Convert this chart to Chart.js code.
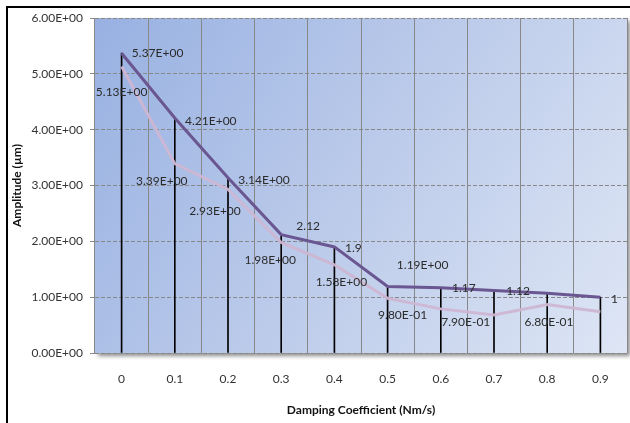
<!DOCTYPE html>
<html><head><meta charset="utf-8">
<script src="https://cdn.jsdelivr.net/npm/chart.js@4"></script>
<style>
html,body{margin:0;padding:0;background:#fff;}
#wrap{position:relative;width:630px;height:423px;overflow:hidden;}
#frame{position:absolute;left:6px;top:6px;width:700px;height:500px;border-left:2px solid #000;border-top:2px solid #000;pointer-events:none;}
</style></head><body>
<div id="wrap"><canvas id="c" width="630" height="423"></canvas><div id="frame"></div></div>
<script>
const categories = ['0','0.1','0.2','0.3','0.4','0.5','0.6','0.7','0.8','0.9'];
const upperSeries = [5.37, 4.21, 3.14, 2.12, 1.9, 1.19, 1.17, 1.12, 1.07, 1];
const lowerSeries = [5.13, 3.39, 2.93, 1.98, 1.58, 0.98, 0.79, 0.68, 0.87, 0.74];
const upperLabels = ['5.37E+00','4.21E+00','3.14E+00','2.12','1.9','1.19E+00','1.17','1.12','','1'];
const lowerLabels = ['5.13E+00','3.39E+00','2.93E+00','1.98E+00','1.58E+00','9.80E-01','7.90E-01','6.80E-01','',''];
const yTickLabels = ['0.00E+00','1.00E+00','2.00E+00','3.00E+00','4.00E+00','5.00E+00','6.00E+00'];

const FONT = 'Lato, "Open Sans", sans-serif';

const plotBg = {
  id: 'plotBg',
  beforeDraw(chart) {
    const {ctx, chartArea: a} = chart;
    const g = ctx.createLinearGradient(a.left, a.top, a.right, a.bottom);
    g.addColorStop(0, '#98b1e2');
    g.addColorStop(0.5, '#bccbea');
    g.addColorStop(1, '#dee6f5');
    ctx.save();
    ctx.shadowColor = 'rgba(0,0,0,0.45)';
    ctx.shadowBlur = 4;
    ctx.shadowOffsetX = 3;
    ctx.shadowOffsetY = 3;
    ctx.fillStyle = g;
    ctx.fillRect(a.left, a.top, a.right - a.left, a.bottom - a.top);
    ctx.restore();
  }
};

const pointLabels = {
  id: 'pointLabels',
  afterDatasetsDraw(chart, args, opts) {
    const {ctx} = chart;
    ctx.save();
    ctx.font = '12px ' + FONT;
    ctx.fillStyle = '#2b2b2b';
    ctx.textAlign = 'center';
    ctx.textBaseline = 'middle';
    opts.sets.forEach(s => {
      const meta = chart.getDatasetMeta(s.dataset);
      meta.data.forEach((pt, i) => {
        const t = s.texts[i];
        if (!t) return;
        const o = s.offsets[i];
        ctx.fillText(t, pt.x + o[0], pt.y + o[1]);
      });
    });
    ctx.restore();
  }
};

new Chart(document.getElementById('c'), {
  type: 'line',
  data: {
    labels: categories,
    datasets: [
      { label: 'Upper', data: upperSeries, borderColor: '#6a5690', borderWidth: 3, pointRadius: 0, tension: 0, order: 1 },
      { label: 'Lower', data: lowerSeries, borderColor: 'rgba(205,182,211,0.95)', borderWidth: 3, pointRadius: 0, tension: 0, order: 2 },
      { type: 'bar', label: 'Drop', data: upperSeries, backgroundColor: '#000', barThickness: 1, order: 3 }
    ]
  },
  options: {
    responsive: false,
    animation: false,
    layout: { padding: { left: 0, top: 18, right: 3, bottom: 0 } },
    plugins: {
      legend: { display: false },
      tooltip: { enabled: false },
      pointLabels: {
        sets: [
          { dataset: 0, texts: upperLabels,
            offsets: [[36,0],[36,3],[36,2],[27,-9],[19,1],[35,-21],[23,0],[24,1],[0,0],[14,2]] },
          { dataset: 1, texts: lowerLabels,
            offsets: [[0,26],[-13,17],[-13,22],[-11,18],[7,17],[15,17],[25,13],[55,7],[0,0],[0,0]] }
        ]
      }
    },
    scales: {
      x: {
        offset: true,
        grid: { offset: true, color: '#888', lineWidth: 1, drawTicks: false },
        border: { display: false },
        ticks: { padding: 19, color: '#333', font: { family: FONT, size: 12 } },
        title: { display: true, text: 'Damping Coefficient (Nm/s)', color: '#111',
                 font: { family: FONT, size: 12, weight: 'bold' }, padding: { top: 0, bottom: 6 } },
        afterFit(s) { s.height = 70; }
      },
      y: {
        min: 0, max: 6,
        grid: { color: '#888', lineWidth: 1, tickLength: 5, tickColor: '#888' },
        border: { display: false, dash: [4, 2] },
        ticks: { stepSize: 1, padding: 7, color: '#333', font: { family: FONT, size: 12 },
                 callback: v => yTickLabels[Math.round(v)] },
        title: { display: true, text: 'Amplitude (µm)', color: '#111',
                 font: { family: FONT, size: 12, weight: 'bold' }, padding: { top: 10, bottom: 0 } },
        afterFit(s) { s.width = 95; }
      }
    }
  },
  plugins: [plotBg, pointLabels]
});
</script>
</body></html>
